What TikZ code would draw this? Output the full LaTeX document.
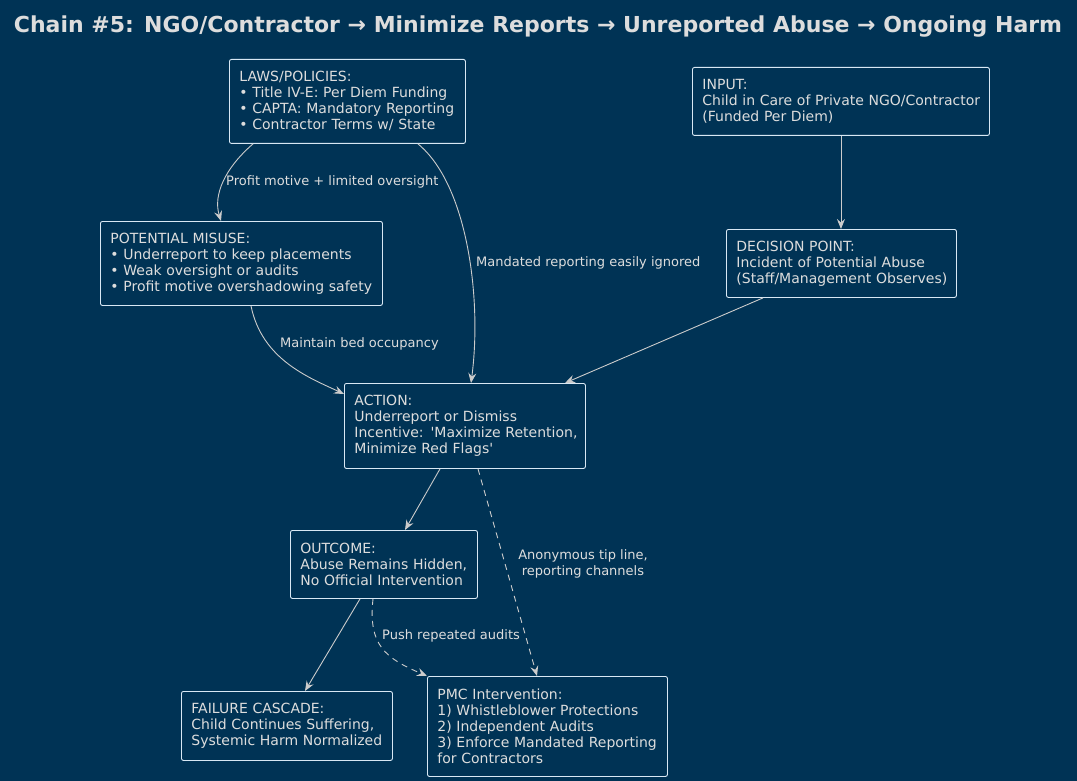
\documentclass[tikz,border=0pt]{standalone}
\usepackage{fontspec}
\setmainfont{DejaVu Sans}
\usetikzlibrary{arrows.meta}
\definecolor{bgc}{HTML}{003355}
\definecolor{txc}{HTML}{DDDDDD}
\definecolor{bdc}{HTML}{D8E8F4}
\definecolor{lnc}{HTML}{CCCCCC}
\newcommand{\bxline}[1]{\mbox{#1}}
\tikzset{
  box/.style={draw=bdc, line width=0.9pt, rounded corners=2pt, anchor=north west,
    align=left, inner xsep=10pt, inner ysep=0pt, text=txc,
    font=\fontsize{14}{16}\selectfont,
    execute at begin node={\hfuzz=40pt\hbadness=10000}},
  conn/.style={draw=lnc, line width=0.9pt, -{Stealth[length=10pt,width=8pt,inset=3.5pt]}},
  dconn/.style={conn, dash pattern=on 6pt off 5pt},
  elabel/.style={text=txc, font=\fontsize{13}{16}\selectfont, inner sep=0pt}
}
\begin{document}
\begin{tikzpicture}[x=1pt,y=-1pt]
\fill[bgc] (0,0) rectangle (1077,781);
\useasboundingbox (0,0) rectangle (1077,781);
\node[text=txc, font=\fontsize{22}{26}\selectfont\bfseries] (title) at (538,27)
  {Chain \#5: NGO/Contractor → Minimize Reports → Unreported Abuse → Ongoing Harm};

\node[box, text width=216pt, minimum height=84pt] (laws) at (229,59)
  {\bxline{LAWS/POLICIES:}\\\bxline{• Title IV-E: Per Diem Funding}\\\bxline{• CAPTA: Mandatory Reporting}\\\bxline{• Contractor Terms w/ State}};
\node[box, text width=277pt, minimum height=68pt] (input) at (692,67)
  {\bxline{INPUT:}\\\bxline{Child in Care of Private NGO/Contractor}\\\bxline{(Funded Per Diem)}};
\node[box, text width=262pt, minimum height=84pt] (misuse) at (100,221)
  {\bxline{POTENTIAL MISUSE:}\\\bxline{• Underreport to keep placements}\\\bxline{• Weak oversight or audits}\\\bxline{• Profit motive overshadowing safety}};
\node[box, text width=210pt, minimum height=68pt] (decision) at (726,229)
  {\bxline{DECISION POINT:}\\\bxline{Incident of Potential Abuse}\\\bxline{(Staff/Management Observes)}};
\node[box, text width=221pt, minimum height=85pt] (action) at (344,383)
  {\bxline{ACTION:}\\\bxline{Underreport or Dismiss}\\\bxline{Incentive: \textquotesingle Maximize Retention,}\\\bxline{Minimize Red Flags\textquotesingle}};
\node[box, text width=167pt, minimum height=68pt] (outcome) at (290,530)
  {\bxline{OUTCOME:}\\\bxline{Abuse Remains Hidden,}\\\bxline{No Official Intervention}};
\node[box, text width=191pt, minimum height=69pt] (failure) at (181,691)
  {\bxline{FAILURE CASCADE:}\\\bxline{Child Continues Suffering,}\\\bxline{Systemic Harm Normalized}};
\node[box, text width=220pt, minimum height=100pt] (pmc) at (427,676)
  {\bxline{PMC Intervention:}\\\bxline{1) Whistleblower Protections}\\\bxline{2) Independent Audits}\\\bxline{3) Enforce Mandated Reporting}\\\bxline{for Contractors}};

% connectors
\draw[conn] ([xshift=24pt]laws.south west) .. controls (225,168) and (213,195) .. ([xshift=121pt]misuse.north west);
\node[elabel, anchor=west] (l1) at (226,182) {Profit motive + limited oversight};

\draw[conn] ([xshift=189pt]laws.south west) .. controls (468,185) and (482,300) .. ([xshift=127pt]action.north west);
\node[elabel, anchor=west] (l2) at (476,263) {Mandated reporting easily ignored};

\draw[conn] (input.south) -- (decision.north -| input.south);

\draw[conn] ([xshift=37pt]decision.south west) -- ([xshift=221pt]action.north west);

\draw[conn] ([xshift=151pt]misuse.south west) .. controls (262,360) and (310,378) .. ([yshift=-11pt]action.north west);
\node[elabel, anchor=west] (l3) at (280,344) {Maintain bed occupancy};

\draw[conn] ([xshift=96pt]action.south west) -- ([xshift=115pt]outcome.north west);

\draw[dconn] ([xshift=134pt]action.south west) -- ([xshift=110pt]pmc.north west);
\node[elabel, align=center] (l4) at (583,564) {Anonymous tip line,\\ reporting channels};

\draw[conn] ([xshift=70pt]outcome.south west) -- ([xshift=124pt]failure.north west);

\draw[dconn] ([xshift=83pt]outcome.south west) .. controls (368,645) and (385,658) .. (pmc.north west);
\node[elabel, anchor=west] (l5) at (382,636) {Push repeated audits};
\end{tikzpicture}
\end{document}
